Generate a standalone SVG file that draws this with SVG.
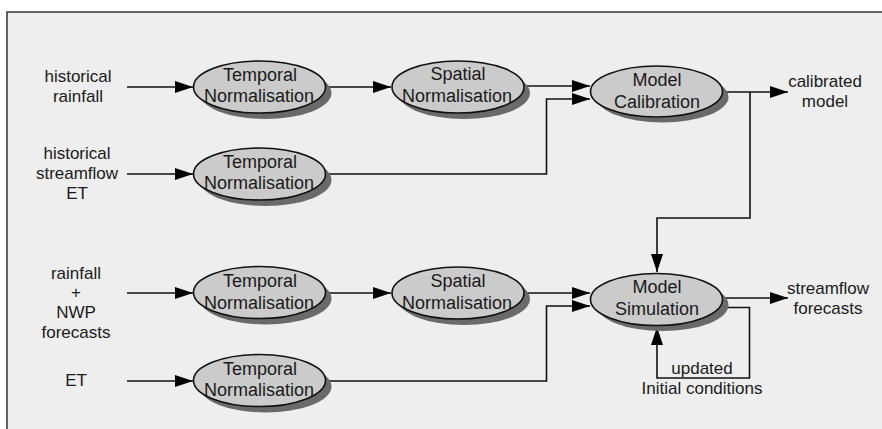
<svg xmlns="http://www.w3.org/2000/svg" width="882" height="429" viewBox="0 0 882 429">
<style>
.lbl{font-family:"Liberation Sans",Arial,sans-serif;font-size:17px;fill:#1a1a1a;text-anchor:middle}
.nt{font-family:"Liberation Sans",Arial,sans-serif;font-size:18px;fill:#1a1a1a;text-anchor:middle}
.sh{fill:#6a6a6a}
.el{fill:#cbcbcb;stroke:#111;stroke-width:1.6}
.ln{fill:none;stroke:#111;stroke-width:1.6}
</style>
<defs>
<marker id="ah" markerWidth="18" markerHeight="12" refX="18" refY="6" orient="auto" markerUnits="userSpaceOnUse">
<path d="M0,0 L18,6 L0,12 Z" fill="#000"/>
</marker>
</defs>
<rect x="0" y="0" width="882" height="429" fill="#ffffff"/>
<rect x="7" y="12" width="890" height="430" fill="#eeeeee" stroke="#333" stroke-width="1.5"/>

<g id="inputs">
<text class="lbl" x="78" y="82">historical</text>
<text class="lbl" x="78" y="102">rainfall</text>
<text class="lbl" x="77" y="159">historical</text>
<text class="lbl" x="77" y="179">streamflow</text>
<text class="lbl" x="77" y="199">ET</text>
<text class="lbl" x="76" y="279">rainfall</text>
<text class="lbl" x="76" y="298">+</text>
<text class="lbl" x="76" y="318">NWP</text>
<text class="lbl" x="76" y="338">forecasts</text>
<text class="lbl" x="76" y="386">ET</text>
</g>

<g id="outputs">
<text class="lbl" x="825" y="87">calibrated</text>
<text class="lbl" x="825" y="107">model</text>
<text class="lbl" x="828" y="294">streamflow</text>
<text class="lbl" x="828" y="314">forecasts</text>
<text class="lbl" x="702" y="374">updated</text>
<text class="lbl" x="702" y="394">Initial conditions</text>
</g>

<g id="connectors">
<line class="ln" x1="127" y1="87" x2="193" y2="87" marker-end="url(#ah)"/>
<line class="ln" x1="326" y1="87" x2="391" y2="87" marker-end="url(#ah)"/>
<line class="ln" x1="525" y1="86" x2="590" y2="86" marker-end="url(#ah)"/>
<line class="ln" x1="127" y1="174" x2="193" y2="174" marker-end="url(#ah)"/>
<polyline class="ln" points="326,174 546.5,174 546.5,99 590,99" marker-end="url(#ah)"/>
<line class="ln" x1="723" y1="92" x2="788" y2="92" marker-end="url(#ah)"/>
<polyline class="ln" points="750,92 750,218 657,218 657,272" marker-end="url(#ah)"/>
<line class="ln" x1="127" y1="293" x2="193" y2="293" marker-end="url(#ah)"/>
<line class="ln" x1="326" y1="293" x2="391" y2="293" marker-end="url(#ah)"/>
<line class="ln" x1="525" y1="293" x2="590" y2="293" marker-end="url(#ah)"/>
<line class="ln" x1="127" y1="381" x2="193" y2="381" marker-end="url(#ah)"/>
<polyline class="ln" points="326,381 546.5,381 546.5,306 590,306" marker-end="url(#ah)"/>
<line class="ln" x1="723" y1="298" x2="788" y2="298" marker-end="url(#ah)"/>
<polyline class="ln" points="718,307.5 749.5,307.5 749.5,378 657,378 657,327" marker-end="url(#ah)"/>
</g>

<g id="temporal1">
<ellipse class="sh" cx="265.5" cy="93" rx="66" ry="26"/>
<ellipse class="el" cx="259.5" cy="87" rx="66" ry="26"/>
<text class="nt" x="260" y="81">Temporal</text>
<text class="nt" x="259" y="102">Normalisation</text>
</g>
<g id="spatial1">
<ellipse class="sh" cx="464" cy="93" rx="66" ry="26"/>
<ellipse class="el" cx="458" cy="87" rx="66" ry="26"/>
<text class="nt" x="458" y="80">Spatial</text>
<text class="nt" x="457" y="102">Normalisation</text>
</g>
<g id="calibration">
<ellipse class="sh" cx="662.5" cy="97" rx="66" ry="25.5"/>
<ellipse class="el" cx="656.5" cy="91.5" rx="66" ry="25.5"/>
<text class="nt" x="657" y="86">Model</text>
<text class="nt" x="657" y="108">Calibration</text>
</g>
<g id="temporal2">
<ellipse class="sh" cx="265.5" cy="180" rx="66" ry="26"/>
<ellipse class="el" cx="259.5" cy="174" rx="66" ry="26"/>
<text class="nt" x="260" y="168">Temporal</text>
<text class="nt" x="259" y="189">Normalisation</text>
</g>
<g id="temporal3">
<ellipse class="sh" cx="265.5" cy="298.5" rx="66" ry="26"/>
<ellipse class="el" cx="259.5" cy="292.5" rx="66" ry="26"/>
<text class="nt" x="260" y="287">Temporal</text>
<text class="nt" x="259" y="309">Normalisation</text>
</g>
<g id="spatial2">
<ellipse class="sh" cx="464" cy="299" rx="66" ry="26"/>
<ellipse class="el" cx="458" cy="293" rx="66" ry="26"/>
<text class="nt" x="458" y="287">Spatial</text>
<text class="nt" x="457" y="309">Normalisation</text>
</g>
<g id="simulation">
<ellipse class="sh" cx="662.5" cy="305" rx="66" ry="26"/>
<ellipse class="el" cx="656.5" cy="299.5" rx="66" ry="26"/>
<text class="nt" x="657" y="293">Model</text>
<text class="nt" x="657" y="315">Simulation</text>
</g>
<g id="temporal4">
<ellipse class="sh" cx="265.5" cy="386.5" rx="66" ry="26"/>
<ellipse class="el" cx="259.5" cy="380.5" rx="66" ry="26"/>
<text class="nt" x="260" y="375">Temporal</text>
<text class="nt" x="259" y="396">Normalisation</text>
</g>
</svg>
